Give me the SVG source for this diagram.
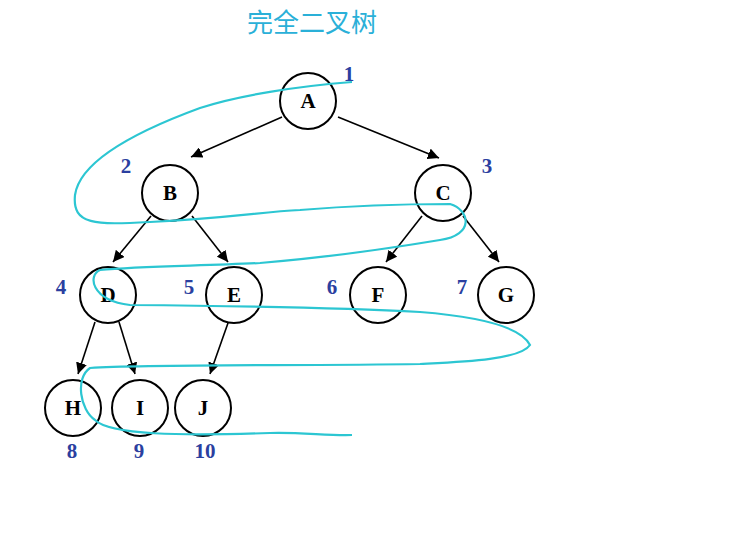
<svg xmlns="http://www.w3.org/2000/svg" width="733" height="533" viewBox="0 0 733 533">
<style>
.n{fill:#fff;stroke:#000;stroke-width:2}
.t{font-family:"Liberation Serif",serif;font-weight:bold;font-size:21px;text-anchor:middle}
.l{font-family:"Liberation Serif",serif;font-weight:bold;font-size:21px;fill:#2b3fa0;text-anchor:middle}
.e{stroke:#000;stroke-width:1.6;fill:none;marker-end:url(#a)}
</style>
<defs><marker id="a" viewBox="0 0 10 10" refX="10" refY="5" markerWidth="7" markerHeight="7" orient="auto"><path d="M0,0L10,5L0,10z"/></marker></defs>
<rect width="733" height="533" fill="#fff"/>
<text x="312" y="32" font-family="'Noto Sans CJK SC',sans-serif" font-size="26" fill="#2ab0d8" text-anchor="middle">完全二叉树</text>
<g id="edges">
<line class="e" x1="282" y1="117" x2="191" y2="157"/>
<line class="e" x1="338" y1="117" x2="439" y2="158"/>
<line class="e" x1="151" y1="216" x2="113" y2="262"/>
<line class="e" x1="192" y1="216" x2="228" y2="262"/>
<line class="e" x1="422" y1="216" x2="386" y2="262"/>
<line class="e" x1="463" y1="216" x2="499" y2="262"/>
<line class="e" x1="95" y1="322" x2="78" y2="374"/>
<line class="e" x1="119" y1="322" x2="135" y2="374"/>
<line class="e" x1="228" y1="323" x2="210" y2="374"/>
</g>
<g id="A"><circle class="n" cx="308" cy="101" r="28"/><text class="t" x="308" y="108">A</text></g>
<g id="B"><circle class="n" cx="170" cy="193" r="28"/><text class="t" x="170" y="200">B</text></g>
<g id="C"><circle class="n" cx="443" cy="193" r="28"/><text class="t" x="443" y="200">C</text></g>
<g id="D"><circle class="n" cx="108" cy="295" r="28"/><text class="t" x="108" y="302">D</text></g>
<g id="E"><circle class="n" cx="234" cy="295" r="28"/><text class="t" x="234" y="302">E</text></g>
<g id="F"><circle class="n" cx="378" cy="295" r="28"/><text class="t" x="378" y="302">F</text></g>
<g id="G"><circle class="n" cx="506" cy="295" r="28"/><text class="t" x="506" y="302">G</text></g>
<g id="H"><circle class="n" cx="73" cy="408" r="28"/><text class="t" x="73" y="415">H</text></g>
<g id="I"><circle class="n" cx="140" cy="408" r="28"/><text class="t" x="140" y="415">I</text></g>
<g id="J"><circle class="n" cx="203" cy="408" r="28"/><text class="t" x="203" y="415">J</text></g>
<g id="labels">
<text class="l" x="349" y="81">1</text><text class="l" x="126" y="173">2</text><text class="l" x="487" y="173">3</text>
<text class="l" x="61" y="294">4</text><text class="l" x="189" y="294">5</text><text class="l" x="332" y="294">6</text>
<text class="l" x="462" y="294">7</text><text class="l" x="72" y="458">8</text><text class="l" x="139" y="458">9</text><text class="l" x="205" y="458">10</text>
</g>
<path d="M352,82 C300,86 240,95 200,108 C140,130 80,160 75,195 C72,225 95,225 150,222 C230,218 260,212 300,210 C360,205 420,204 450,204 C470,210 475,235 440,240 C380,250 320,258 260,263 C200,266 140,266 100,270 C88,275 90,300 130,305 C250,306 350,308 420,312 C470,316 520,325 530,345 C520,360 460,362 420,364 C300,366 150,364 90,368 C75,378 80,410 95,420 C110,435 180,436 270,433 C300,432 330,436 352,435" fill="none" stroke="#2cc6d2" stroke-width="2.2"/>
</svg>
